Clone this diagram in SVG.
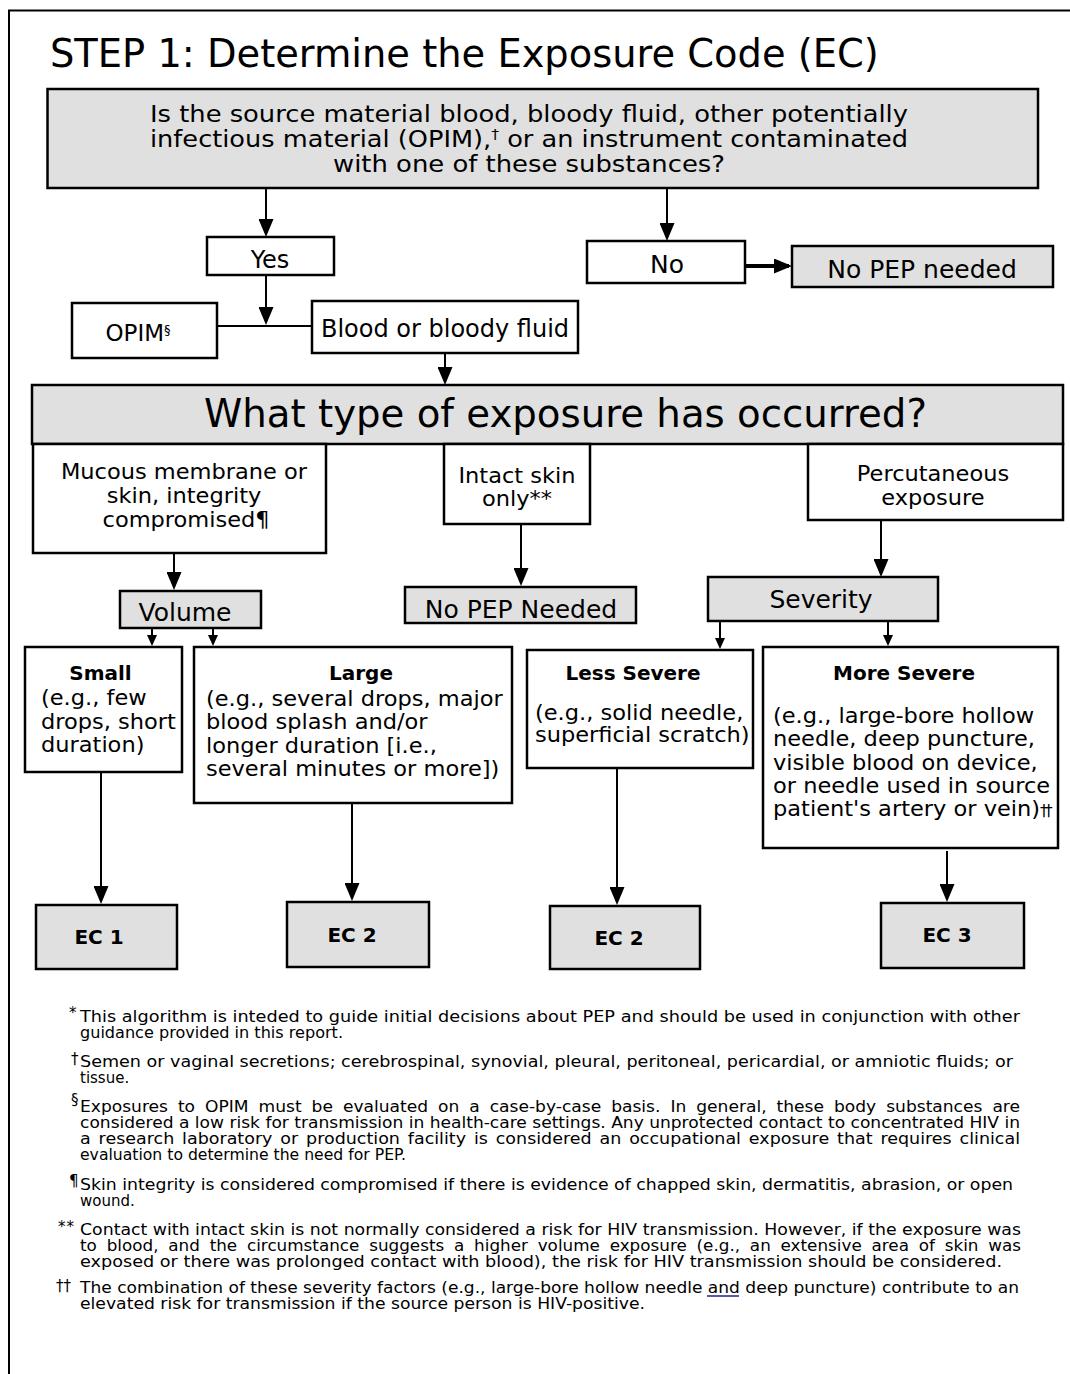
<svg xmlns="http://www.w3.org/2000/svg" width="1070" height="1374" viewBox="0 0 1070 1374">
<style>
text{font-family:"DejaVu Sans","Liberation Sans",sans-serif;fill:#000}
.box{fill:#fff;stroke:#000;stroke-width:2.5}
.gbox{fill:#e0e0e0;stroke:#000;stroke-width:2.5}
.c{text-anchor:middle}
.t25{font-size:25px}
.t22{font-size:21.5px}
.q{font-size:23px;text-anchor:middle}
.b20{font-size:20px;font-weight:bold;text-anchor:middle}
.fn{font-size:15px}
.sym{font-size:15px}
#connectors line{stroke:#000;stroke-width:2}
</style>
<defs>
<marker id="ah" viewBox="0 0 18 15" refX="15" refY="7.5" markerWidth="18" markerHeight="15" markerUnits="userSpaceOnUse" orient="auto">
<path d="M0,0 L18,7.5 L0,15 z" fill="#000"/>
</marker>
<marker id="as" viewBox="0 0 11 10" refX="8.5" refY="5" markerWidth="11" markerHeight="10" markerUnits="userSpaceOnUse" orient="auto">
<path d="M0,0 L11,5 L0,10 z" fill="#000"/>
</marker>
</defs>
<rect width="1070" height="1374" fill="#fff"/>
<path d="M9,1374 V10.5 H1070" fill="none" stroke="#000" stroke-width="2"/>
<text x="50" y="67" font-size="38.4">STEP 1: Determine the Exposure Code (EC)</text>

<g id="connectors">
<line x1="266" y1="189" x2="266" y2="234" marker-end="url(#ah)"/>
<line x1="667" y1="189" x2="667" y2="238" marker-end="url(#ah)"/>
<line x1="745" y1="266" x2="789" y2="266" style="stroke-width:4" marker-end="url(#ah)"/>
<line x1="266" y1="275" x2="266" y2="322" marker-end="url(#ah)"/>
<line x1="216" y1="326" x2="312" y2="326"/>
<line x1="445" y1="353" x2="445" y2="382" marker-end="url(#ah)"/>
<line x1="174" y1="553" x2="174" y2="587" marker-end="url(#ah)"/>
<line x1="521" y1="524" x2="521" y2="583" marker-end="url(#ah)"/>
<line x1="881" y1="520" x2="881" y2="574" marker-end="url(#ah)"/>
<line x1="152" y1="628" x2="152" y2="643.5" marker-end="url(#as)"/>
<line x1="213" y1="628" x2="213" y2="643.5" marker-end="url(#as)"/>
<line x1="720" y1="621" x2="720" y2="646.5" marker-end="url(#as)"/>
<line x1="888" y1="621" x2="888" y2="643.5" marker-end="url(#as)"/>
<line x1="101" y1="772" x2="101" y2="901" marker-end="url(#ah)"/>
<line x1="352" y1="803" x2="352" y2="898" marker-end="url(#ah)"/>
<line x1="617" y1="768" x2="617" y2="902" marker-end="url(#ah)"/>
<line x1="947" y1="851" x2="947" y2="899" marker-end="url(#ah)"/>
</g>

<g id="n-question">
<rect class="gbox" x="47.5" y="89" width="990.5" height="99"/>
<text class="q" x="529" y="122" textLength="758" lengthAdjust="spacingAndGlyphs">Is the source material blood, bloody fluid, other potentially</text>
<text class="q" x="529" y="147" textLength="758" lengthAdjust="spacingAndGlyphs">infectious material (OPIM),<tspan font-size="14" dy="-8">†</tspan><tspan dy="8"> or an instrument contaminated</tspan></text>
<text class="q" x="529" y="172" textLength="392" lengthAdjust="spacingAndGlyphs">with one of these substances?</text>
</g>
<g id="n-yes">
<rect class="box" x="207" y="237" width="127" height="38"/>
<text class="c" x="270" y="268" font-size="24">Yes</text>
</g>
<g id="n-no">
<rect class="box" x="587" y="241" width="158" height="42"/>
<text class="c t25" x="667" y="273">No</text>
</g>
<g id="n-nopep1">
<rect class="gbox" x="792" y="246" width="261" height="41"/>
<text class="c t25" x="922" y="278">No PEP needed</text>
</g>
<g id="n-opim">
<rect class="box" x="72" y="303" width="145" height="55"/>
<text class="c" x="138" y="341" font-size="23">OPIM<tspan font-size="13" dy="-7">§</tspan></text>
</g>
<g id="n-blood">
<rect class="box" x="312" y="301" width="266" height="52"/>
<text class="c" x="445" y="337" font-size="24">Blood or bloody fluid</text>
</g>
<g id="n-type">
<rect class="gbox" x="32" y="385" width="1031" height="59"/>
<text class="c" x="565.5" y="427" font-size="38.7">What type of exposure has occurred?</text>
</g>
<g id="n-mucous">
<rect class="box" x="33" y="444" width="293" height="109"/>
<g transform="matrix(1.0465,0,0,1,-8.556,0)">
<text class="c t22" x="184" y="479">Mucous membrane or</text>
<text class="c t22" x="184" y="503">skin, integrity</text>
<text class="c t22" x="186" y="527">compromised¶</text>
</g>
</g>
<g id="n-intact">
<rect class="box" x="444" y="444" width="146" height="80"/>
<g transform="matrix(1.0465,0,0,1,-24.041,0)">
<text class="c t22" x="517" y="483">Intact skin</text>
<text class="c t22" x="517" y="506">only**</text>
</g>
</g>
<g id="n-percut">
<rect class="box" x="808" y="444" width="255" height="76"/>
<g transform="matrix(1.0465,0,0,1,-43.385,0)">
<text class="c t22" x="933" y="481">Percutaneous</text>
<text class="c t22" x="933" y="505">exposure</text>
</g>
</g>
<g id="n-volume">
<rect class="gbox" x="120" y="591" width="141" height="37"/>
<text class="c t25" x="185" y="621">Volume</text>
</g>
<g id="n-nopep2">
<rect class="gbox" x="405" y="587" width="231" height="36"/>
<text class="c t25" x="521" y="618">No PEP Needed</text>
</g>
<g id="n-severity">
<rect class="gbox" x="708" y="577" width="230" height="44"/>
<text class="c t25" x="821" y="608">Severity</text>
</g>
<g id="n-small">
<rect class="box" x="25" y="647" width="157" height="125"/>
<text class="b20" x="100.5" y="680">Small</text>
<g transform="matrix(1.0465,0,0,1,-1.907,0)">
<text class="t22" x="41" y="705">(e.g., few</text>
<text class="t22" x="41" y="729">drops, short</text>
<text class="t22" x="41" y="752">duration)</text>
</g>
</g>
<g id="n-large">
<rect class="box" x="194" y="647" width="318" height="156"/>
<text class="b20" x="361" y="680">Large</text>
<g transform="matrix(1.0465,0,0,1,-9.579,0)">
<text class="t22" x="206" y="706">(e.g., several drops, major</text>
<text class="t22" x="206" y="729">blood splash and/or</text>
<text class="t22" x="206" y="753">longer duration [i.e.,</text>
<text class="t22" x="206" y="776">several minutes or more])</text>
</g>
</g>
<g id="n-less">
<rect class="box" x="527" y="650" width="226" height="118"/>
<text class="b20" x="633" y="680">Less Severe</text>
<g transform="matrix(1.0465,0,0,1,-24.878,0)">
<text class="t22" x="535" y="720">(e.g., solid needle,</text>
<text class="t22" x="535" y="742">superficial scratch)</text>
</g>
</g>
<g id="n-more">
<rect class="box" x="763" y="647" width="295" height="201"/>
<text class="b20" x="904" y="680">More Severe</text>
<g transform="matrix(1.0465,0,0,1,-35.945,0)">
<text class="t22" x="773" y="723">(e.g., large-bore hollow</text>
<text class="t22" x="773" y="746">needle, deep puncture,</text>
<text class="t22" x="773" y="770">visible blood on device,</text>
<text class="t22" x="773" y="793">or needle used in source</text>
<text class="t22" x="773" y="816">patient's artery or vein)<tspan font-size="15" letter-spacing="-3">††</tspan></text>
</g>
</g>
<g id="n-ec1">
<rect class="gbox" x="36" y="905" width="141" height="64"/>
<text class="b20" x="99" y="944">EC 1</text>
</g>
<g id="n-ec2a">
<rect class="gbox" x="287" y="902" width="142" height="65"/>
<text class="b20" x="352" y="942">EC 2</text>
</g>
<g id="n-ec2b">
<rect class="gbox" x="550" y="906" width="150" height="63"/>
<text class="b20" x="619" y="945">EC 2</text>
</g>
<g id="n-ec3">
<rect class="gbox" x="881" y="903" width="143" height="65"/>
<text class="b20" x="947" y="942">EC 3</text>
</g>

<g id="footnotes">
<text class="sym" x="69" y="1018">*</text>
<text class="fn" x="80" y="1022" textLength="940" lengthAdjust="spacingAndGlyphs">This algorithm is inteded to guide initial decisions about PEP and should be used in conjunction with other</text>
<text class="fn" x="80" y="1038" textLength="263" lengthAdjust="spacingAndGlyphs">guidance provided in this report.</text>
<text class="sym" x="71" y="1064">†</text>
<text class="fn" x="80" y="1067" textLength="933" lengthAdjust="spacingAndGlyphs">Semen or vaginal secretions; cerebrospinal, synovial, pleural, peritoneal, pericardial, or amniotic fluids; or</text>
<text class="fn" x="80" y="1083">tissue.</text>
<text class="sym" x="71" y="1105">§</text>
<text class="fn" x="80" y="1112" textLength="940" lengthAdjust="spacingAndGlyphs" word-spacing="4">Exposures to OPIM must be evaluated on a case-by-case basis. In general, these body substances are</text>
<text class="fn" x="80" y="1128" textLength="940" lengthAdjust="spacingAndGlyphs">considered a low risk for transmission in health-care settings. Any unprotected contact to concentrated HIV in</text>
<text class="fn" x="80" y="1144" textLength="940" lengthAdjust="spacingAndGlyphs" word-spacing="2">a research laboratory or production facility is considered an occupational exposure that requires clinical</text>
<text class="fn" x="80" y="1160" textLength="326" lengthAdjust="spacingAndGlyphs">evaluation to determine the need for PEP.</text>
<text class="sym" x="69" y="1186" font-size="18">¶</text>
<text class="fn" x="80" y="1190" textLength="933" lengthAdjust="spacingAndGlyphs">Skin integrity is considered compromised if there is evidence of chapped skin, dermatitis, abrasion, or open</text>
<text class="fn" x="80" y="1206">wound.</text>
<text class="sym" x="58" y="1232" letter-spacing="1">**</text>
<text class="fn" x="80" y="1235" textLength="941" lengthAdjust="spacingAndGlyphs">Contact with intact skin is not normally considered a risk for HIV transmission. However, if the exposure was</text>
<text class="fn" x="80" y="1251" textLength="941" lengthAdjust="spacingAndGlyphs" word-spacing="4">to blood, and the circumstance suggests a higher volume exposure (e.g., an extensive area of skin was</text>
<text class="fn" x="80" y="1267" textLength="922" lengthAdjust="spacingAndGlyphs">exposed or there was prolonged contact with blood), the risk for HIV transmission should be considered.</text>
<text class="sym" x="56" y="1291">††</text>
<text class="fn" x="80" y="1293" textLength="939" lengthAdjust="spacingAndGlyphs">The combination of these severity factors (e.g., large-bore hollow needle and deep puncture) contribute to an</text>
<line x1="707" y1="1296" x2="739" y2="1296" stroke="#1f1f8f" stroke-width="1.5"/>
<text class="fn" x="80" y="1309" textLength="565" lengthAdjust="spacingAndGlyphs">elevated risk for transmission if the source person is HIV-positive.</text>
</g>
</svg>
